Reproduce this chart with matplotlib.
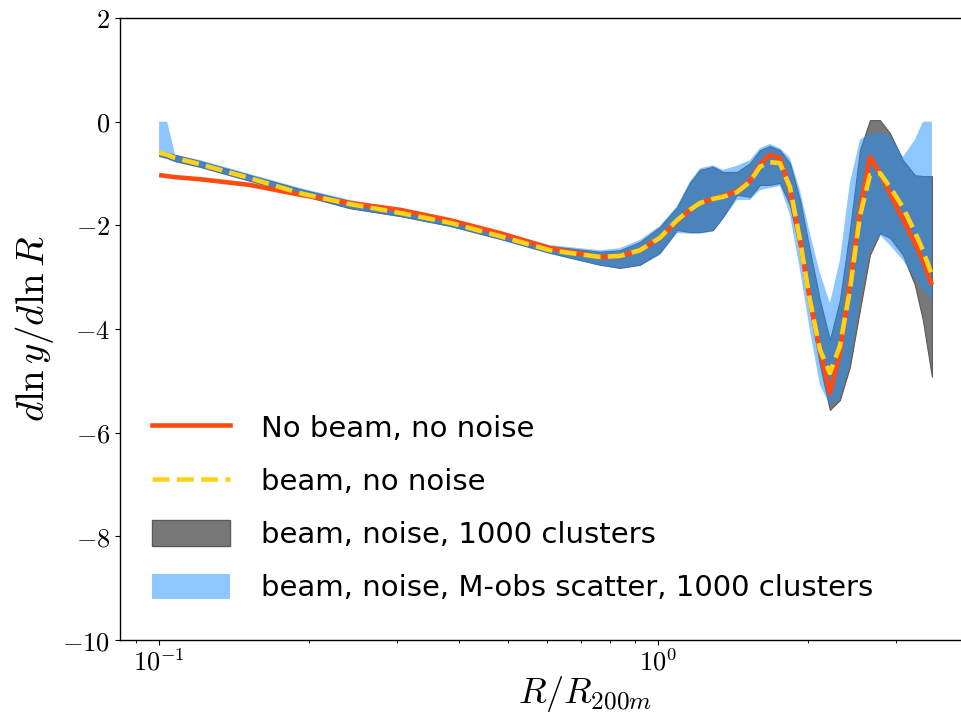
import matplotlib
matplotlib.use("Agg")
import matplotlib.pyplot as plt
from matplotlib.ticker import FixedLocator, FixedFormatter, NullFormatter
import matplotlib.patches as mpatches
from matplotlib.lines import Line2D

plt.rcParams["mathtext.fontset"] = "cm"

# radius in units of R_200m
r = [0.100, 0.1038, 0.1077, 0.1208, 0.1521, 0.1917, 0.2414, 0.3041, 0.3830,
     0.4825, 0.6075, 0.7652, 0.8389, 0.9203, 1.009, 1.092, 1.159, 1.214,
     1.289, 1.350, 1.440, 1.529, 1.601, 1.676, 1.756, 1.839, 1.926, 2.016,
     2.112, 2.211, 2.316, 2.425, 2.540, 2.660, 2.786, 2.917, 3.097, 3.273,
     3.397, 3.541]

# logarithmic slope, no beam / no noise
slope_true = [-1.03, -1.05, -1.07, -1.11, -1.22, -1.41, -1.57, -1.70, -1.90,
              -2.15, -2.44, -2.61, -2.59, -2.48, -2.24, -1.92, -1.70, -1.57,
              -1.49, -1.43, -1.34, -1.14, -0.83, -0.64, -0.70, -1.32, -2.28,
              -3.44, -4.40, -5.24, -4.46, -3.10, -1.72, -0.68, -0.99, -1.38,
              -1.88, -2.34, -2.67, -3.15]

# beam convolved, no noise
slope_beam = [-0.60, -0.64, -0.70, -0.82, -1.09, -1.38, -1.59, -1.76, -1.95,
              -2.21, -2.48, -2.61, -2.59, -2.48, -2.24, -1.90, -1.70, -1.57,
              -1.49, -1.45, -1.36, -1.16, -0.87, -0.78, -0.80, -1.26, -2.28,
              -3.44, -4.40, -4.85, -4.33, -3.25, -1.82, -1.03, -0.99, -1.26,
              -1.65, -2.13, -2.48, -2.96]

# beam + noise, 1000 clusters (band)
noise_lo = [-0.66, -0.70, -0.76, -0.87, -1.14, -1.41, -1.67, -1.82, -2.01,
            -2.26, -2.53, -2.76, -2.82, -2.76, -2.53, -2.09, -2.13, -2.13,
            -2.09, -1.84, -1.41, -1.45, -1.22, -1.22, -1.18, -1.61, -2.48,
            -3.63, -4.69, -5.56, -5.37, -4.73, -3.63, -2.57, -2.15, -2.24,
            -2.57, -3.15, -3.83, -4.92]
noise_hi = [-0.57, -0.60, -0.64, -0.76, -1.03, -1.30, -1.53, -1.70, -1.90,
            -2.13, -2.40, -2.51, -2.48, -2.32, -2.03, -1.65, -1.18, -0.93,
            -0.87, -0.97, -0.97, -0.80, -0.55, -0.47, -0.55, -0.80, -1.51,
            -2.48, -3.44, -4.21, -3.44, -2.09, -0.55, 0.03, 0.03, -0.22,
            -0.74, -1.03, -1.05, -1.05]

# beam + noise + mass-observable scatter (band)
scatter_lo = [-0.68, -0.72, -0.78, -0.89, -1.16, -1.43, -1.68, -1.84, -2.03,
              -2.28, -2.55, -2.78, -2.84, -2.78, -2.57, -2.15, -2.16, -2.16,
              -2.12, -1.88, -1.51, -1.51, -1.32, -1.28, -1.24, -1.80, -2.86,
              -4.02, -5.08, -5.47, -5.33, -4.69, -3.44, -2.48, -2.19, -2.38,
              -2.67, -3.02, -3.25, -3.44]
scatter_hi = [0.0, 0.0, -0.64, -0.74, -1.01, -1.28, -1.51, -1.68, -1.88,
              -2.11, -2.38, -2.48, -2.44, -2.28, -2.01, -1.63, -1.15, -0.90,
              -0.84, -0.93, -0.85, -0.74, -0.51, -0.43, -0.51, -0.70, -1.32,
              -2.15, -2.92, -3.50, -2.67, -1.18, -0.35, -0.22, -0.22, -0.26,
              -0.68, -0.35, 0.0, 0.0]

labels = ["No beam, no noise", "beam, no noise",
          "beam, noise, 1000 clusters",
          "beam, noise, M-obs scatter, 1000 clusters"]

fig = plt.figure(figsize=(9.61, 7.18), dpi=100)
ax = fig.add_axes([0.1249, 0.1086, 0.8751, 0.8663])

ax.fill_between(r, noise_lo, noise_hi, facecolor="#787878",
                edgecolor="#5a5a5a", linewidth=0.8)
ax.fill_between(r, scatter_lo, scatter_hi, facecolor="dodgerblue",
                alpha=0.5, linewidth=0)
ax.plot(r, slope_true, color="#ff4a12", lw=3.3, solid_capstyle="butt")
ax.plot(r, slope_beam, color="#ffd21a", lw=3.3, ls="--")

ax.set_xscale("log")
ax.set_xlim(0.0835, 4.05)
ax.set_ylim(-10, 2)

ax.xaxis.set_major_locator(FixedLocator([0.1, 1.0]))
ax.xaxis.set_major_formatter(FixedFormatter([r"$10^{-1}$", r"$10^{0}$"]))
ax.xaxis.set_minor_locator(FixedLocator([0.09, 0.2, 0.3, 0.4, 0.5, 0.6,
                                         0.7, 0.8, 0.9, 2, 3]))
ax.xaxis.set_minor_formatter(NullFormatter())
yt = [-10, -8, -6, -4, -2, 0, 2]
ax.yaxis.set_major_locator(FixedLocator(yt))
ax.yaxis.set_major_formatter(FixedFormatter([rf"${v}$" for v in yt]))
ax.tick_params(labelsize=19)

ax.set_xlabel(r"$R/R_{200m}$", fontsize=26)
ax.xaxis.set_label_coords(0.553, -0.055)
ax.set_ylabel(r"$d\ln y/d\ln R$", fontsize=28)
ax.yaxis.set_label_coords(-0.076, 0.5)

for s in ax.spines.values():
    s.set_linewidth(1.0)
ax.spines["right"].set_visible(False)

handles = [
    Line2D([], [], color="#ff4a12", lw=3.3),
    Line2D([], [], color="#ffd21a", lw=3.3, ls="--"),
    mpatches.Patch(facecolor="#787878", edgecolor="#5a5a5a"),
    mpatches.Patch(facecolor="dodgerblue", alpha=0.5),
]
ax.legend(handles, labels, loc="lower left", bbox_to_anchor=(-0.007, 0.0),
          frameon=False, prop={"family": "DejaVu Sans", "size": 21},
          handlelength=2.68, handleheight=0.95, handletextpad=1.05,
          labelspacing=0.84, borderaxespad=0.4, borderpad=0.9)

fig.savefig("out.png", dpi=100)
